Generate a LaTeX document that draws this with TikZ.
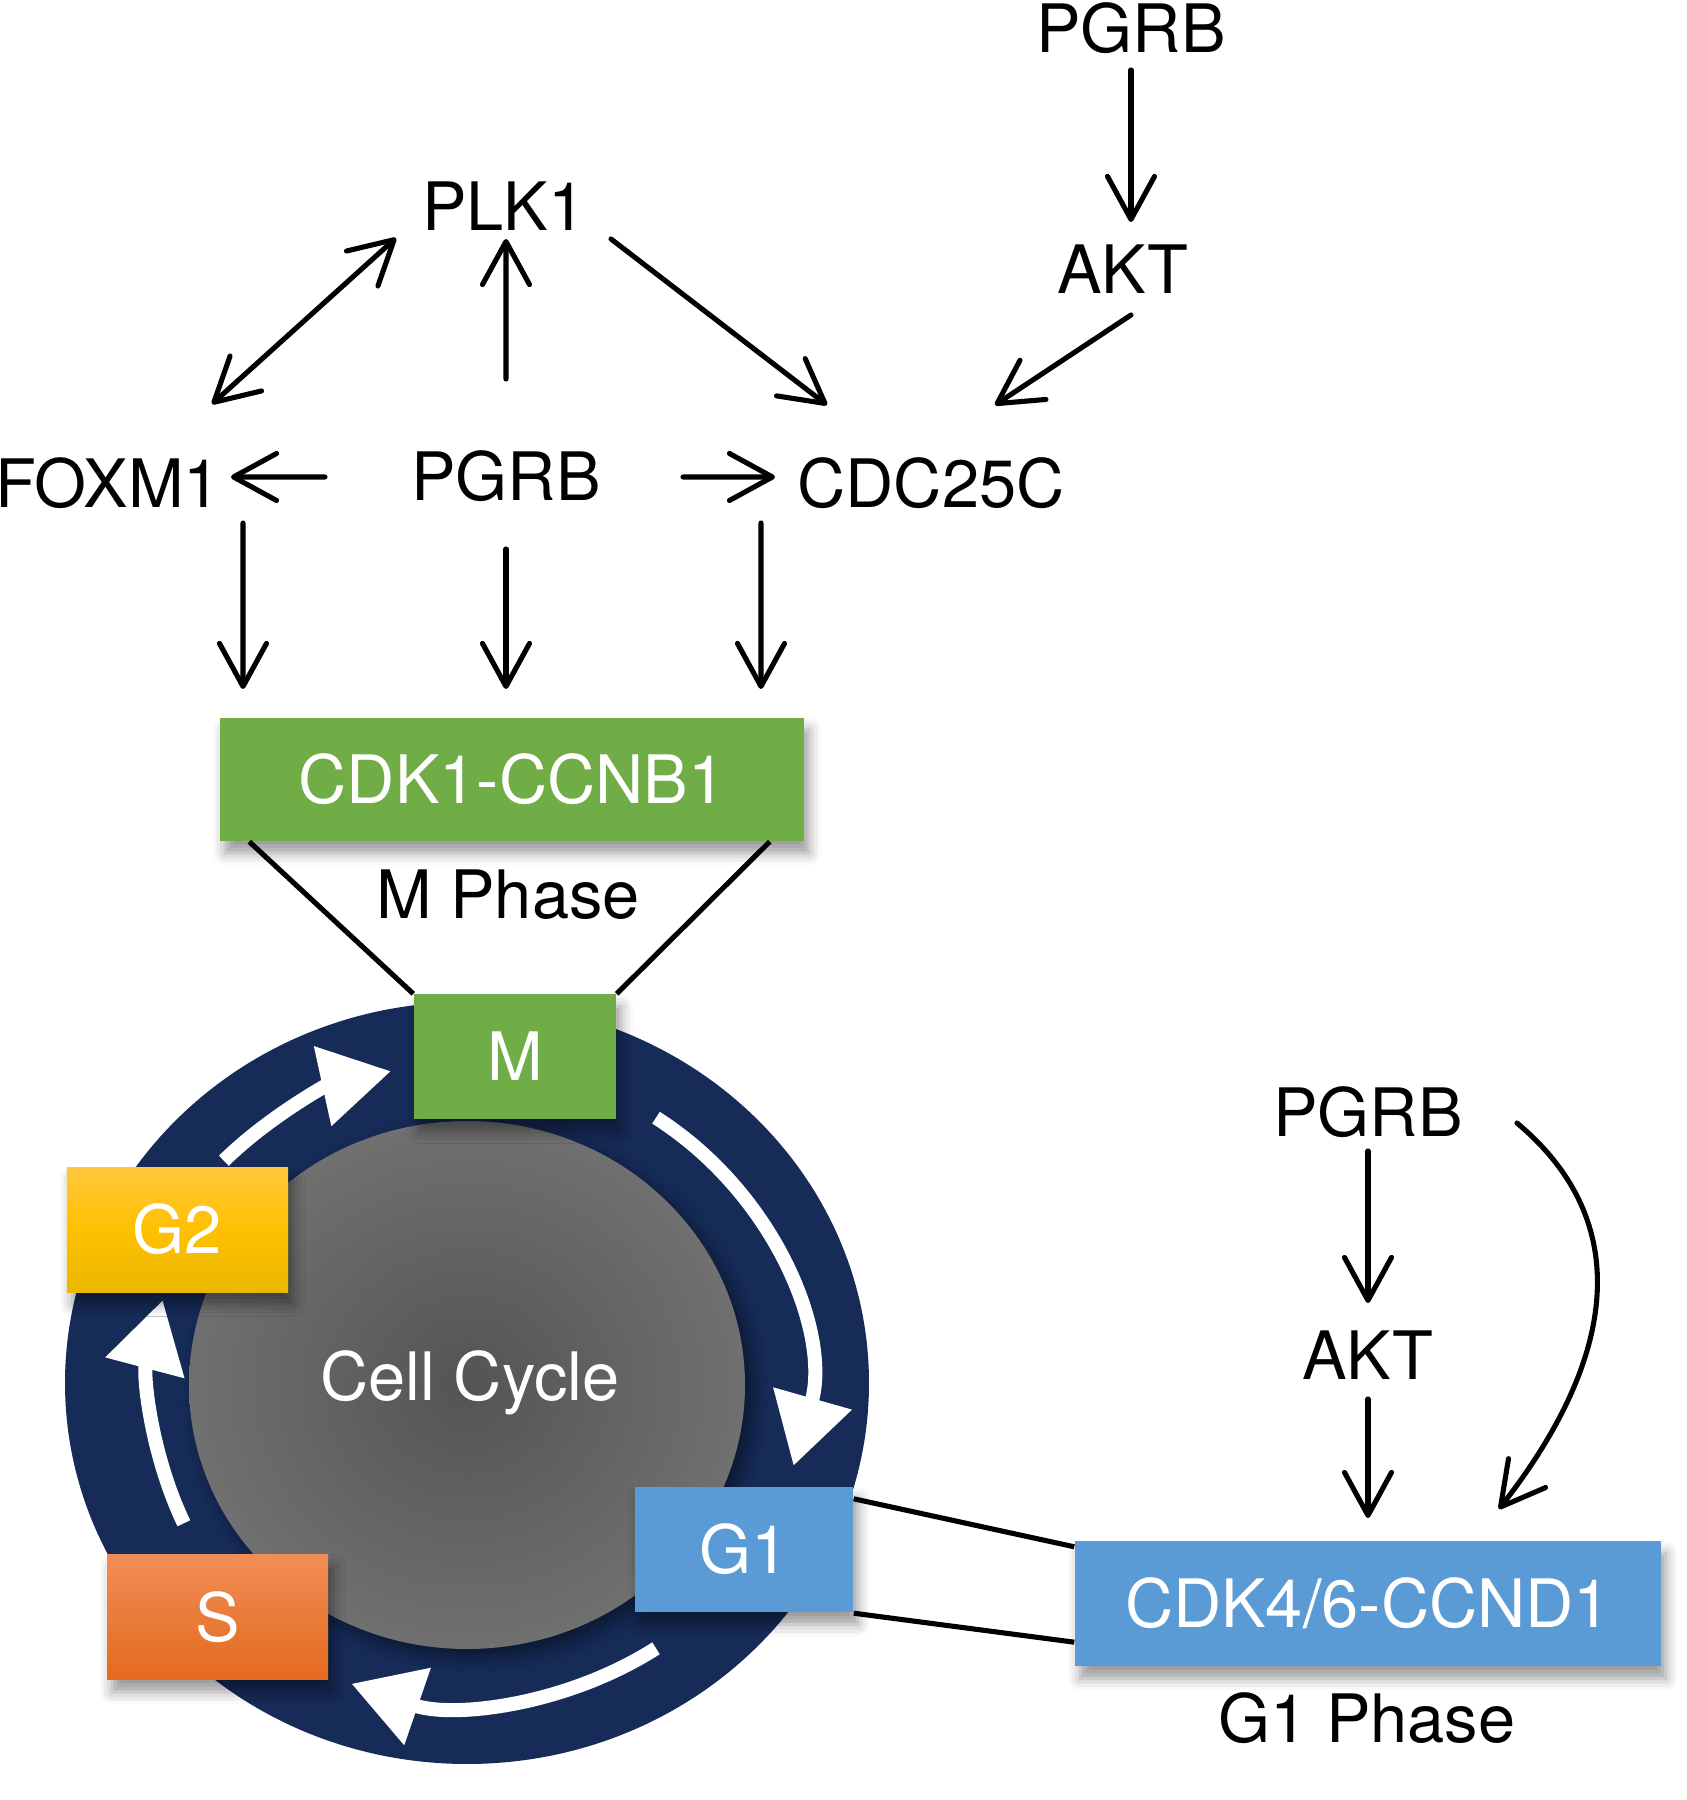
\documentclass[tikz,border=0pt]{standalone}
\usepackage{fontspec}
\setmainfont{TeX Gyre Heros}
\usetikzlibrary{arrows.meta,shadows.blur}

\definecolor{mgreen}{RGB}{112,173,71}
\definecolor{gblue}{RGB}{91,155,213}
\definecolor{ringnavy}{RGB}{22,43,88}
\definecolor{ytop}{RGB}{255,200,60}
\definecolor{ymid}{RGB}{255,192,0}
\definecolor{ybot}{RGB}{232,184,0}
\definecolor{otop}{RGB}{240,141,86}
\definecolor{obot}{RGB}{228,106,30}
\definecolor{discin}{RGB}{84,84,84}
\definecolor{discout}{RGB}{112,112,112}

\tikzset{
  lbl/.style={font=\fontsize{19}{22.8}\selectfont, text height=13.6pt, text depth=0pt, inner sep=0pt},
  arr/.style={line width=1.45pt, line cap=round, -{Straight Barb[length=4.3mm,width=4.7mm,round]}},
  dblarr/.style={arr, {Straight Barb[length=4.3mm,width=4.7mm,round]}-{Straight Barb[length=4.3mm,width=4.7mm,round]}},
  phasebox/.style={lbl, text=white, minimum height=1.25cm,
    blur shadow={shadow xshift=0.5mm, shadow yshift=-1.2mm, shadow blur radius=1.2mm, shadow opacity=40}},
  cyclearrow/.style={white, line width=4pt, -{Triangle[length=7mm,width=7.8mm]}},
  link/.style={line width=1.45pt}
}

\begin{document}
\begin{tikzpicture}
\useasboundingbox (0,0) rectangle (16.87,18);
% cell cycle wheel
\coordinate (cc) at (4.67,4.17);
\fill[ringnavy] (cc) ellipse[x radius=4.02, y radius=3.81];
\shade[inner color=discin, outer color=discout,
  blur shadow={shadow xshift=0.8mm, shadow yshift=-0.8mm, shadow blur radius=1.5mm, shadow opacity=45}]
  (4.67,4.15) ellipse[x radius=2.78, y radius=2.64];
\node[lbl, text=white] (cyc) at (4.70,4.23) {Cell Cycle};
\draw[cyclearrow] (cc) ++(56:3.38 and 3.2) arc[start angle=56, end angle=-15, x radius=3.38, y radius=3.2];
\draw[cyclearrow] (cc) ++(-56:3.38 and 3.2) arc[start angle=-56, end angle=-110, x radius=3.38, y radius=3.2];
\draw[cyclearrow] (cc) ++(206:3.15 and 3.2) arc[start angle=206, end angle=165, x radius=3.15, y radius=3.2];
\draw[cyclearrow] (cc) ++(136:3.38 and 3.2) arc[start angle=136, end angle=103, x radius=3.38, y radius=3.2];
% phase boxes
\node[phasebox, fill=mgreen, minimum width=5.84cm, minimum height=1.23cm] (cdkB) at (5.12,10.205) {CDK1-CCNB1};
\node[phasebox, fill=mgreen, minimum width=2.02cm] (mbox) at (5.15,7.43) {M};
\node[phasebox, top color=ytop, bottom color=ybot, middle color=ymid, minimum width=2.21cm] (g2) at (1.775,5.70) {G2};
\node[phasebox, top color=otop, bottom color=obot, minimum width=2.21cm] (sbox) at (2.175,1.825) {S};
\node[phasebox, fill=gblue, minimum width=2.18cm] (g1) at (7.44,2.50) {G1};
\node[phasebox, fill=gblue, minimum width=5.86cm] (cdkD) at (13.68,1.96) {CDK4/6-CCND1};
\node[lbl] (mph) at (5.08,9.05) {M Phase};
\node[lbl] (g1ph) at (13.67,0.81) {G1 Phase};
% regulators
\node[lbl] (pgrbA) at (11.31,17.715) {PGRB};
\node[lbl] (aktA) at (11.23,15.30) {AKT};
\node[lbl] (plk) at (5.04,15.93) {PLK1};
\node[lbl] (foxm) at (1.08,13.16) {FOXM1};
\node[lbl] (pgrbB) at (5.06,13.23) {PGRB};
\node[lbl] (cdc) at (9.31,13.16) {CDC25C};
\node[lbl] (pgrbC) at (13.68,6.87) {PGRB};
\node[lbl] (aktB) at (13.68,4.44) {AKT};
% connectors
\draw[link] ([xshift=3mm]cdkB.south west) -- (mbox.north west);
\draw[link] ([xshift=-3.5mm]cdkB.south east) -- (mbox.north east);
\draw[link] ([yshift=-1.2mm]g1.north east) -- ([yshift=-0.6mm]cdkD.north west);
\draw[link] (g1.south east) -- ([yshift=2.5mm]cdkD.south west);
\draw[dblarr] ([shift={(1.04,0.80)}]foxm.center) -- ([shift={(-1.08,-0.31)}]plk.center);
\draw[arr] ([shift={(0,0.98)}]pgrbB.center) -- ([shift={(0.02,-0.32)}]plk.center);
\draw[arr] ([shift={(1.07,-0.32)}]plk.center) -- ([shift={(-1.04,0.79)}]cdc.center);
\draw[arr] ([shift={(0.08,-0.45)}]aktA.center) -- ([shift={(0.64,0.79)}]cdc.center);
\draw[arr] ([shift={(0,-0.415)}]pgrbA.center) -- ([shift={(0.08,0.48)}]aktA.center);
\draw[arr] ([shift={(-1.81,0)}]pgrbB.center) -- ([shift={(1.23,0.07)}]foxm.center);
\draw[arr] ([shift={(1.77,0)}]pgrbB.center) -- ([shift={(-1.56,0.07)}]cdc.center);
\draw[arr] ([shift={(1.35,-0.39)}]foxm.center) -- ([shift={(-2.69,0.905)}]cdkB.center);
\draw[arr] ([shift={(0,-0.72)}]pgrbB.center) -- ([shift={(-0.06,0.905)}]cdkB.center);
\draw[arr] ([shift={(-1.70,-0.39)}]cdc.center) -- ([shift={(2.49,0.905)}]cdkB.center);
\draw[arr] ([shift={(0,-0.38)}]pgrbC.center) -- ([shift={(0,0.53)}]aktB.center);
\draw[arr] ([shift={(0,-0.43)}]aktB.center) -- ([shift={(0,0.86)}]cdkD.center);
\draw[arr] ([shift={(1.49,-0.10)}]pgrbC.center) to[out=-40, in=52, looseness=1.12] ([shift={(1.31,0.95)}]cdkD.center);
\end{tikzpicture}
\end{document}
